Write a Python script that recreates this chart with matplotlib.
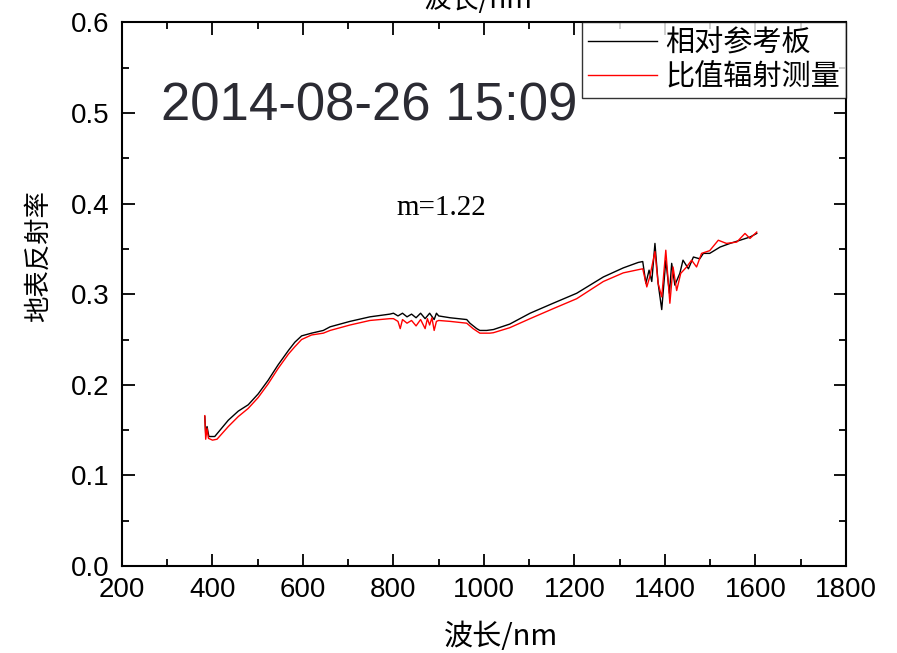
"""
地表反射率曲线 - 相对参考板 vs 比值辐射测量
"""

import numpy as np
import matplotlib.pyplot as plt
from matplotlib.ticker import MultipleLocator

plt.rcParams['font.family'] = ['Liberation Sans', 'Noto Sans CJK SC', 'DejaVu Sans']
plt.rcParams['axes.unicode_minus'] = False

# 相对参考板（黑线）
wl_ref = [383, 385, 388, 392, 405, 415, 435, 457, 479, 501, 523, 545, 568, 582,
          597, 619, 645, 660, 704, 748, 792, 800, 810, 820, 830, 840, 850, 860,
          870, 880, 890, 895, 900, 925, 962, 969, 984, 991, 1006, 1021, 1057,
          1102, 1153, 1205, 1264, 1308, 1341, 1351, 1358, 1365, 1371, 1378,
          1385, 1393, 1402, 1410, 1415, 1422, 1433, 1440, 1452, 1463, 1477,
          1485, 1499, 1522, 1544, 1566, 1588, 1603]
refl_ref = [0.165, 0.146, 0.154, 0.143, 0.143, 0.149, 0.161, 0.171, 0.178, 0.190,
            0.205, 0.222, 0.238, 0.247, 0.254, 0.257, 0.260, 0.264, 0.270, 0.275,
            0.278, 0.279, 0.276, 0.279, 0.275, 0.278, 0.274, 0.279, 0.273, 0.279,
            0.272, 0.279, 0.276, 0.274, 0.272, 0.268, 0.262, 0.260, 0.260, 0.261,
            0.267, 0.279, 0.290, 0.301, 0.319, 0.329, 0.335, 0.336, 0.312, 0.3265,
            0.314, 0.356, 0.312, 0.283, 0.3375, 0.301, 0.334, 0.310, 0.323, 0.3375,
            0.328, 0.341, 0.339, 0.345, 0.345, 0.352, 0.356, 0.3595, 0.363, 0.367]

# 比值辐射测量（红线）
wl_ratio = [383, 385, 388, 391, 400, 410, 435, 457, 479, 501, 523, 545, 568, 582,
            597, 619, 645, 660, 704, 748, 792, 800, 810, 815, 820, 830, 840, 850,
            860, 870, 875, 880, 885, 890, 895, 900, 925, 962, 976, 991, 1013, 1021,
            1057, 1102, 1153, 1205, 1264, 1308, 1341, 1351, 1360, 1367, 1378,
            1385, 1393, 1402, 1411, 1418, 1426, 1435, 1448, 1459, 1470, 1481,
            1499, 1518, 1536, 1559, 1577, 1588, 1603]
refl_ratio = [0.166, 0.140, 0.152, 0.141, 0.139, 0.140, 0.154, 0.165, 0.174, 0.186,
              0.201, 0.218, 0.234, 0.242, 0.250, 0.255, 0.257, 0.260, 0.266, 0.271,
              0.273, 0.273, 0.270, 0.262, 0.272, 0.268, 0.271, 0.265, 0.272, 0.262,
              0.273, 0.266, 0.274, 0.260, 0.270, 0.271, 0.270, 0.268, 0.262, 0.257,
              0.257, 0.2575, 0.263, 0.273, 0.284, 0.295, 0.314, 0.3235, 0.327, 0.328,
              0.308, 0.320, 0.347, 0.312, 0.297, 0.3485, 0.290, 0.330, 0.304, 0.323,
              0.330, 0.3375, 0.330, 0.345, 0.348, 0.3595, 0.356, 0.3575, 0.367,
              0.3615, 0.3685]

fig = plt.figure(figsize=(8.97, 6.53), dpi=100)
ax = fig.add_axes([0.136, 0.133, 0.807, 0.833])

ax.plot(wl_ref, refl_ref, color='black', linewidth=1.0, label='相对参考板')
ax.plot(wl_ratio, refl_ratio, color='red', linewidth=1.0, label='比值辐射测量')

ax.set_xlim(200, 1800)
ax.set_ylim(0, 0.6)
ax.xaxis.set_major_locator(MultipleLocator(200))
ax.xaxis.set_minor_locator(MultipleLocator(100))
ax.yaxis.set_major_locator(MultipleLocator(0.1))
ax.yaxis.set_minor_locator(MultipleLocator(0.05))
ax.yaxis.set_major_formatter(plt.FuncFormatter(lambda v, p: f'{v:.1f}'))
ax.tick_params(which='both', direction='in', top=True, right=True, width=1.3)
ax.tick_params(which='major', length=9, labelsize=20)
ax.tick_params(axis='x', which='major', pad=8)
ax.tick_params(axis='y', which='major', pad=9)
ax.tick_params(which='minor', length=5)
for s in ax.spines.values():
    s.set_linewidth(1.5)

cjk = ['Noto Sans CJK SC', 'DejaVu Sans']
ax.set_xlabel('波长/nm', fontsize=21, family=cjk)
ax.xaxis.set_label_coords(0.5235, -0.103)
ax.set_ylabel('地表反射率', fontsize=19, family=cjk)
ax.yaxis.set_label_coords(-0.097, 0.57)
# 顶部被截掉的坐标标题
fig.text(0.533, 1.0, '波长/nm', fontsize=20, family=cjk, ha='center', va='center')

leg = ax.legend(loc='upper right', bbox_to_anchor=(1.0, 1.0), borderaxespad=0,
                prop={'family': cjk, 'size': 21}, frameon=True, fancybox=False,
                handlelength=2.35, handletextpad=0.3, labelspacing=0.15,
                borderpad=0.2)
leg.get_frame().set_edgecolor('black')
leg.get_frame().set_linewidth(1.0)

ax.text(0.054, 0.845, '2014-08-26 15:09', transform=ax.transAxes, fontsize=38,
        color='#2b2b33', ha='left', va='center')
ax.text(0.4406, 0.658, 'm=1.22', transform=ax.transAxes, fontsize=21,
        family='Liberation Serif', ha='center', va='center')

plt.savefig('out.png', dpi=100)
plt.close()
